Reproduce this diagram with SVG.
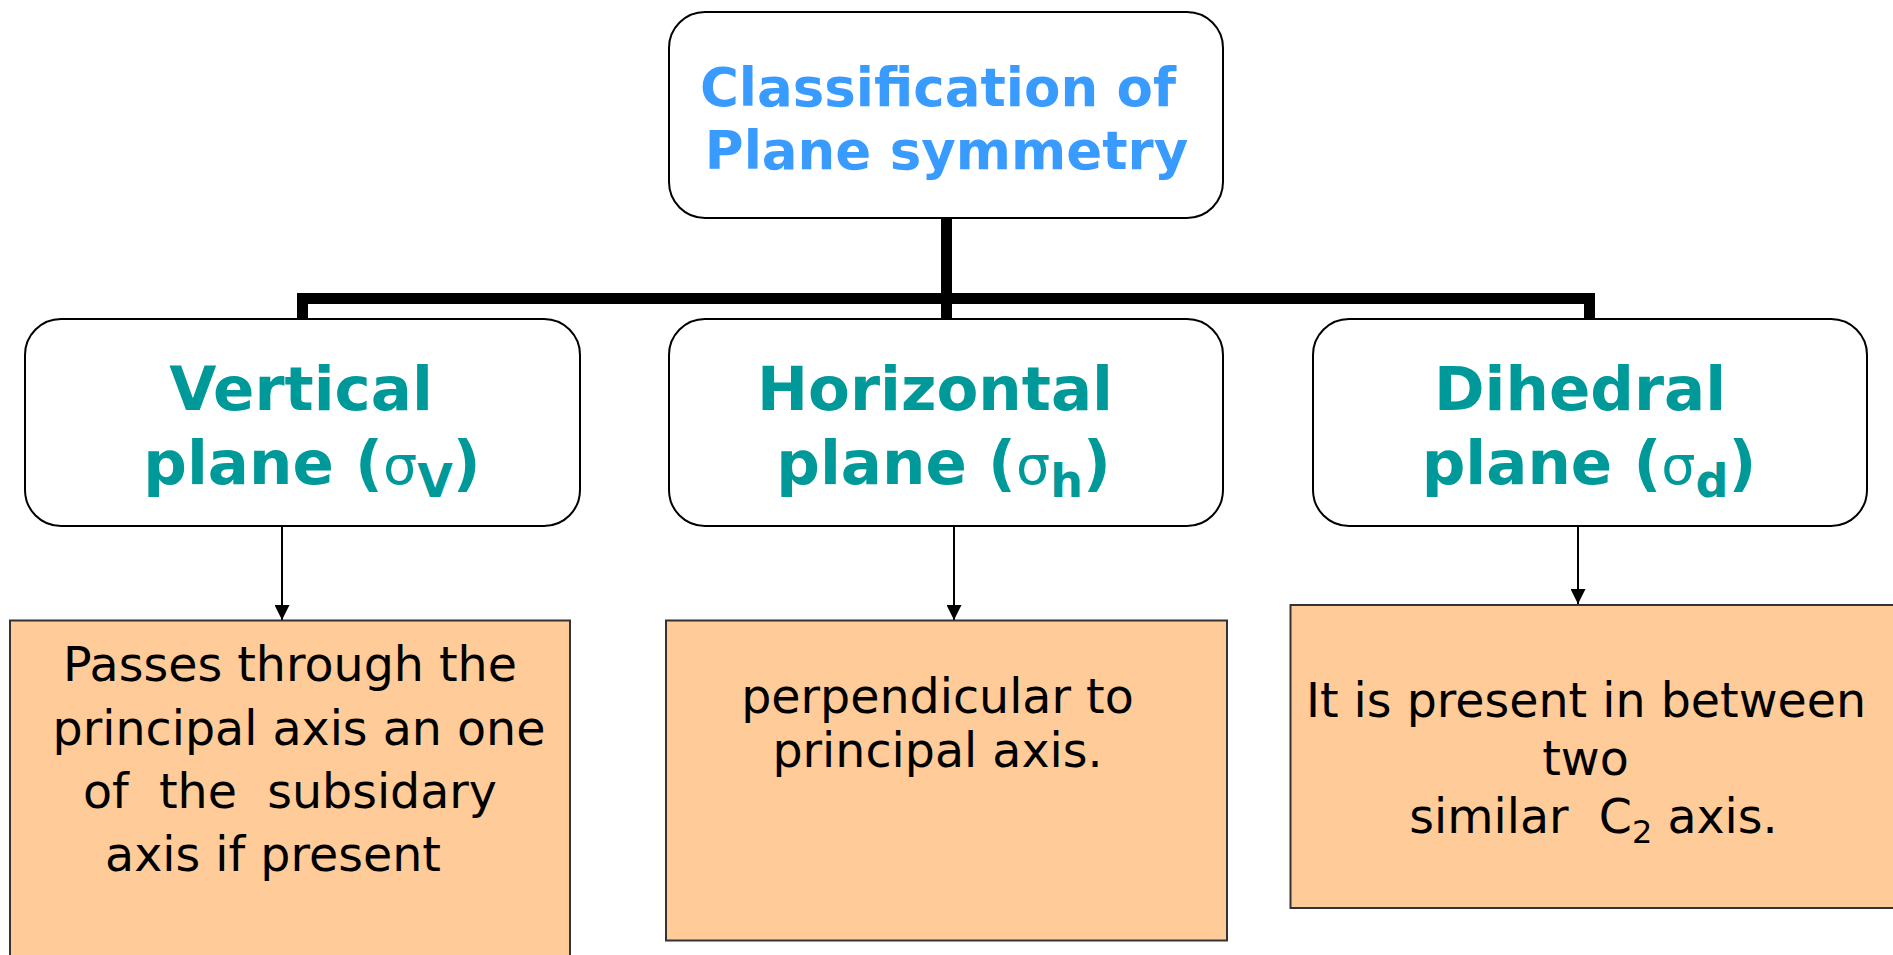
<svg xmlns="http://www.w3.org/2000/svg" width="1893" height="955" viewBox="0 0 1893 955">
  <defs>
    <marker id="arrow" viewBox="0 0 10 10" refX="10" refY="5" markerWidth="15" markerHeight="15" markerUnits="userSpaceOnUse" orient="auto">
      <path d="M0,0 L10,5 L0,10 z" fill="#000"/>
    </marker>
    <style>
      .round { fill: #ffffff; stroke: #000; stroke-width: 2; }
      .note { fill: #FFCB98; stroke: #333; stroke-width: 2; }
      .title { font-family: "DejaVu Sans", Verdana, sans-serif; font-weight: bold; font-size: 53px; fill: #3A9BFF; text-anchor: middle; }
      .kind { font-family: "DejaVu Sans", Verdana, sans-serif; font-weight: bold; font-size: 61px; fill: #009999; text-anchor: middle; }
      .sig { font-weight: normal; font-size: 54px; }
      .sub { font-size: 46px; }
      .body { font-family: "DejaVu Sans", Verdana, sans-serif; font-size: 47.5px; fill: #000; text-anchor: middle; }
      .bus { fill: none; stroke: #000; stroke-width: 11; stroke-linejoin: miter; }
      .link { fill: none; stroke: #000; stroke-width: 2; }
    </style>
  </defs>
  <rect width="1893" height="955" fill="#ffffff"/>

  <!-- connectors -->
  <g id="connectors">
    <path class="bus" d="M946.5,218 V319"/>
    <path class="bus" d="M302.5,319 V298.5 H1589.5 V319"/>
    <line class="link" x1="282" y1="526" x2="282" y2="620" marker-end="url(#arrow)"/>
    <line class="link" x1="954" y1="526" x2="954" y2="620" marker-end="url(#arrow)"/>
    <line class="link" x1="1578" y1="526" x2="1578" y2="604" marker-end="url(#arrow)"/>
  </g>

  <!-- root -->
  <g id="root">
    <rect class="round" x="669" y="12" width="554" height="206" rx="36" ry="36"/>
    <text class="title" x="938" y="106">Classification of</text>
    <text class="title" x="946.5" y="169">Plane symmetry</text>
  </g>

  <!-- plane types -->
  <g id="vertical">
    <rect class="round" x="25" y="319" width="555" height="207" rx="36" ry="36"/>
    <text class="kind" x="301" y="410">Vertical</text>
    <text class="kind" x="312" y="484">plane (<tspan class="sig">σ</tspan><tspan class="sub" dy="13">V</tspan><tspan dy="-13">)</tspan></text>
  </g>
  <g id="horizontal">
    <rect class="round" x="669" y="319" width="554" height="207" rx="36" ry="36"/>
    <text class="kind" x="935" y="410">Horizontal</text>
    <text class="kind" x="943.5" y="484">plane (<tspan class="sig">σ</tspan><tspan class="sub" dy="13">h</tspan><tspan dy="-13">)</tspan></text>
  </g>
  <g id="dihedral">
    <rect class="round" x="1313" y="319" width="554" height="207" rx="36" ry="36"/>
    <text class="kind" x="1580" y="410">Dihedral</text>
    <text class="kind" x="1589" y="484">plane (<tspan class="sig">σ</tspan><tspan class="sub" dy="13">d</tspan><tspan dy="-13">)</tspan></text>
  </g>

  <!-- descriptions -->
  <g id="vertical-note">
    <rect class="note" x="10" y="620.5" width="560" height="345"/>
    <text class="body" x="290" y="681">Passes through the</text>
    <text class="body" x="299" y="745">principal axis an one</text>
    <text class="body" x="290" y="808" xml:space="preserve">of  the  subsidary</text>
    <text class="body" x="273" y="871">axis if present</text>
  </g>
  <g id="horizontal-note">
    <rect class="note" x="666" y="620.5" width="561" height="320"/>
    <text class="body" x="937.5" y="713">perpendicular to</text>
    <text class="body" x="937.5" y="767">principal axis.</text>
  </g>
  <g id="dihedral-note">
    <rect class="note" x="1290.5" y="605" width="620" height="303"/>
    <text class="body" x="1586" y="717">It is present in between</text>
    <text class="body" x="1585.5" y="775">two</text>
    <text class="body" x="1593.5" y="833" xml:space="preserve">similar  C<tspan font-size="32" dy="10">2</tspan><tspan dy="-10"> axis.</tspan></text>
  </g>
</svg>
